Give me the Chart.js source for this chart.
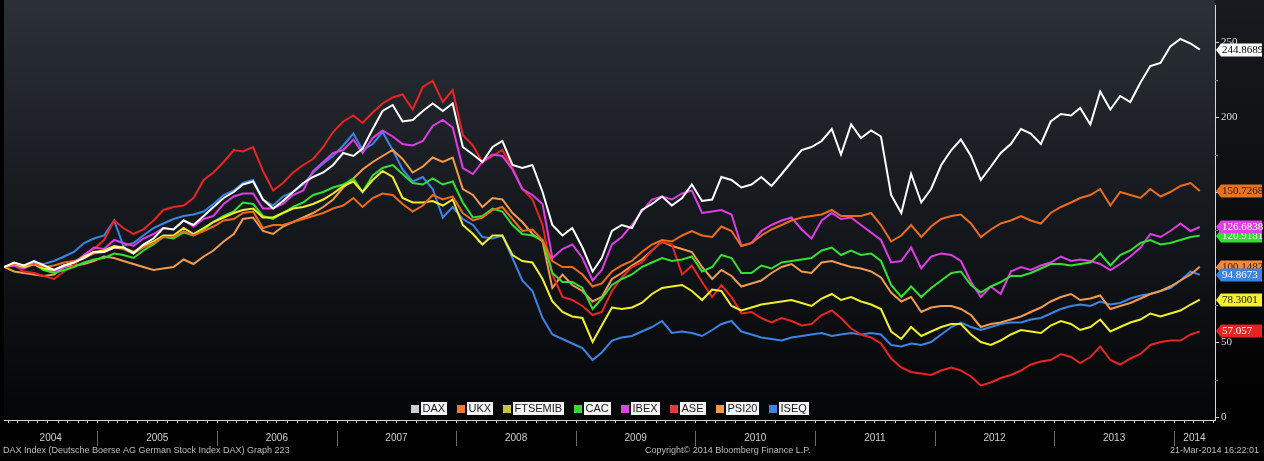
<!DOCTYPE html>
<html>
<head>
<meta charset="utf-8">
<title>DAX Index Graph 223</title>
<script src="https://cdn.jsdelivr.net/npm/chart.js@4/dist/chart.umd.min.js"></script>
<style>
  html, body { margin: 0; padding: 0; background: #000; overflow: hidden; }
  canvas { display: block; }
</style>
</head>
<body>
<canvas id="indexChart" width="1264" height="461"></canvas>
<script>
// one observation per month, every index rebased to 100 on the first date
const firstDate = [2004, 3, 21];
const monthCount = 121;

const seriesNames = ["DAX", "UKX", "FTSEMIB", "CAC", "IBEX", "ASE", "PSI20", "ISEQ"];

const dax = [
    100, 103, 101, 104, 101, 98, 101, 103, 106, 110,
    110, 113, 113, 109, 115, 119, 126, 125, 131, 128,
    134, 140, 146, 150, 155, 157, 145, 139, 144, 150,
    156, 160, 163, 168, 176, 174, 179, 192, 204, 208,
    197, 198, 204, 209, 204, 209, 180, 175, 170, 180,
    184, 168, 166, 168, 150, 128, 121, 126, 113, 97,
    106, 124, 128, 126, 138, 142, 147, 141, 146, 155,
    144, 145, 160, 158, 153, 155, 160, 154, 162, 170,
    178, 180, 184, 192, 175, 195, 186, 191, 187, 148,
    136, 162, 143, 152, 168, 178, 185, 174, 158, 167,
    176, 182, 192, 189, 182, 197, 202, 201, 206, 195,
    217, 205, 214, 210, 223, 234, 236, 247, 252, 249,
    244.8689
];
const ukx = [
    100, 102, 101, 102, 100, 101, 103, 104, 106, 109,
    110, 113, 112, 109, 113, 116, 120, 120, 124, 121,
    124, 127, 131, 132, 136, 137, 126, 128, 128, 130,
    132, 134, 136, 139, 141, 146, 140, 146, 149, 148,
    142, 137, 141, 148, 145, 147, 136, 131, 133, 138,
    140, 132, 124, 125, 118, 104, 100, 100, 95, 87,
    89, 97, 101, 104, 110, 115, 118, 117, 121, 124,
    121, 120, 127, 124, 114, 116, 121, 125, 128, 131,
    133, 134, 135, 138, 134, 134, 134, 136, 128, 117,
    121, 128, 120, 127, 132, 134, 135, 129, 120, 125,
    129, 131, 134, 131, 129, 136, 140, 143, 146, 148,
    152, 141, 150, 148, 146, 152, 147, 150, 154, 156,
    150.7268
];
const ftsemib = [
    100, 102, 100, 102, 99, 98, 101, 103, 107, 110,
    111, 114, 113, 110, 114, 117, 121, 121, 126, 122,
    126, 130, 133, 136, 138, 139, 133, 133, 136, 139,
    140, 142, 145, 149, 154, 157, 150, 158, 164, 160,
    146, 143, 143, 144, 141, 145, 128, 122, 115, 121,
    121, 108, 104, 103, 92, 77, 70, 67, 66, 50,
    61, 73, 72, 73, 76, 82, 86, 87, 88, 84,
    78, 85, 84, 74, 71, 73, 75, 76, 77, 78,
    76, 74, 79, 82, 78, 80, 77, 75, 72, 57,
    52, 60, 54, 57, 60, 62, 62, 55, 50, 48,
    51, 55, 58, 57, 56, 61, 64, 62, 58, 60,
    65, 57, 60, 63, 65, 69, 67, 69, 71, 75,
    78.3001
];
const cac = [
    100, 102, 100, 102, 98, 96, 98, 100, 103, 105,
    106, 109, 108, 106, 111, 115, 120, 119, 123, 121,
    125, 130, 134, 137, 143, 142, 134, 132, 136, 140,
    143, 148, 150, 153, 155, 159, 150, 161, 166, 168,
    162, 156, 155, 159, 155, 157, 143, 133, 134, 139,
    137, 128, 122, 121, 118, 96, 90, 90, 86, 72,
    79, 88, 92, 95, 100, 103, 106, 104, 105, 107,
    97, 100, 108, 106, 96, 96, 101, 99, 103, 104,
    105, 106, 111, 113, 108, 111, 108, 109, 104, 88,
    80, 87, 80, 86, 91, 96, 97, 88, 83, 87,
    90, 94, 94, 96, 99, 102, 102, 101, 102, 103,
    109, 101, 108, 111, 116, 118, 115, 116, 118, 120,
    120.9181
];
const ibex = [
    100, 101, 99, 102, 98, 97, 100, 103, 108, 113,
    112, 118, 116, 114, 119, 122, 126, 125, 131, 127,
    132, 134, 142, 147, 149, 149, 139, 139, 142, 148,
    151, 164, 170, 176, 178, 185, 176, 186, 191, 187,
    182, 181, 184, 194, 198, 193, 166, 162, 170, 175,
    174, 165, 152, 148, 142, 106, 112, 115, 106, 91,
    98, 115, 120, 128, 137, 145, 147, 145, 149, 151,
    136, 137, 138, 135, 114, 116, 124, 128, 131, 133,
    125, 119, 131, 136, 132, 133, 128, 123, 118, 103,
    104, 113, 99, 107, 109, 108, 104, 90, 80, 87,
    82, 97, 100, 98, 101, 103, 107, 104, 105, 104,
    102, 98, 102, 107, 113, 122, 120, 124, 129, 124,
    126.6838
];
const ase = [
    100, 101, 97, 96, 94, 92, 97, 101, 108, 112,
    118, 131, 126, 122, 125, 131, 138, 140, 141, 146,
    158, 163, 170, 178, 177, 180, 164, 151, 156, 163,
    168, 172, 180, 190, 197, 201, 196, 203, 209, 213,
    215, 205, 220, 224, 210, 218, 188, 181, 170, 174,
    178, 166, 152, 145, 128, 95, 80, 78, 74, 68,
    70, 84, 93, 100, 103, 111, 117, 115, 95, 101,
    90, 80, 88, 80, 69, 70, 66, 63, 66, 64,
    61, 62, 68, 71, 66, 59, 55, 53, 49, 39,
    33, 30, 29, 28, 31, 33, 31, 27, 21, 23,
    26, 28, 31, 35, 37, 38, 42, 40, 36, 40,
    47, 38, 35, 39, 42, 48, 50, 51, 51, 55,
    57.057
];
const psi20 = [
    100, 97, 96, 95, 94, 95, 100, 101, 102, 104,
    107, 106, 104, 102, 100, 98, 99, 100, 105, 102,
    107, 111, 117, 122, 132, 133, 124, 122, 127, 130,
    133, 136, 140, 145, 153, 159, 165, 170, 174, 178,
    172, 163, 167, 173, 170, 173, 152, 148, 140, 146,
    145, 136, 130, 122, 117, 86, 95, 88, 84, 77,
    80, 92, 96, 101, 105, 111, 117, 114, 112, 110,
    100, 92, 98, 94, 87, 89, 91, 96, 100, 102,
    97, 96, 103, 104, 102, 100, 99, 97, 93, 83,
    77, 80, 70, 73, 74, 74, 72, 68, 60, 62,
    63, 65, 67, 70, 73, 77, 80, 82, 78, 79,
    81, 72, 74, 76, 79, 82, 84, 87, 91, 95,
    100.1482
];
const iseq = [
    100, 102, 100, 103, 102, 104, 107, 110, 116, 119,
    121, 131, 114, 116, 121, 126, 129, 132, 134, 135,
    137, 142, 148, 151, 156, 158, 145, 141, 147, 150,
    155, 163, 169, 174, 181, 189, 178, 182, 190, 178,
    165, 157, 160, 152, 133, 140, 132, 128, 120, 119,
    121, 106, 91, 84, 66, 55, 52, 49, 46, 38,
    43, 51, 53, 54, 57, 60, 64, 56, 57, 56,
    54, 58, 62, 64, 57, 55, 53, 52, 51, 53,
    54, 55, 56, 54, 55, 56, 55, 56, 55, 48,
    47, 49, 48, 50, 55, 60, 63, 60, 58, 60,
    62, 63, 63, 65, 66, 69, 72, 74, 75, 74,
    77, 75, 76, 79, 81, 82, 84, 86, 91, 97,
    94.8673
];

const yTickValues = [0, 50, 100, 150, 200, 250];
const yMinorValues = [25, 75, 125, 175, 225];
const yearLabels = [2004, 2005, 2006, 2007, 2008, 2009, 2010, 2011, 2012, 2013, 2014];

const seriesValues = [dax, ukx, ftsemib, cac, ibex, ase, psi20, iseq];
const lineColors = ["#ffffff", "#ec6c1c", "#f2ee2a", "#33e033", "#e03ce6", "#e82424", "#f39a4d", "#3a84e6"];
const keyColors = ["#cfcfcf", "#ec7a32", "#c6c43a", "#3cd43c", "#dc46dc", "#e23a3a", "#f0984e", "#3e82e0"];
const tagColors = ["#ffffff", "#e8731e", "#f4f032", "#33dd33", "#e040e6", "#e82222", "#f08a3a", "#3a84e6"];
const tagTextColors = ["#000000", "#3a1400", "#1a1a00", "#f0fff0", "#ffffff", "#ffffff", "#3a1a00", "#ffffff"];

function toYearFraction(d) {
    const y = d.getUTCFullYear();
    const start = Date.UTC(y, 0, 1);
    const end = Date.UTC(y + 1, 0, 1);
    return y + (d.getTime() - start) / (end - start);
}

const dates = [];
for (let i = 0; i < monthCount; i++) {
    dates.push(new Date(Date.UTC(firstDate[0], firstDate[1] - 1 + i, firstDate[2])));
}
const xMin = toYearFraction(dates[0]);
const xMax = xMin + 10.125;

// Bloomberg style frame: background, axis line, legend, value tags, footer
const bbgFrame = {
    id: "bbgFrame",
    beforeDraw(chart) {
        const { ctx, chartArea: a, width, height } = chart;
        ctx.save();
        ctx.fillStyle = "#000";
        ctx.fillRect(0, 0, width, height);
        let g = ctx.createLinearGradient(0, a.top, 0, a.bottom);
        g.addColorStop(0, "#2b3037");
        g.addColorStop(0.45, "#171b20");
        g.addColorStop(1, "#040506");
        ctx.fillStyle = g;
        ctx.fillRect(a.left, 0, a.right - a.left, a.bottom);
        g = ctx.createLinearGradient(0, 0, 0, a.bottom);
        g.addColorStop(0, "#171a1e");
        g.addColorStop(1, "#000");
        ctx.fillStyle = g;
        ctx.fillRect(a.right, 0, width - a.right, a.bottom);
        ctx.restore();
    },
    afterDraw(chart) {
        const { ctx, chartArea: a, width } = chart;
        const xs = chart.scales.x;
        const ys = chart.scales.y;
        ctx.save();

        // x axis line with monthly ticks
        ctx.strokeStyle = "#d0d0d0";
        ctx.lineWidth = 1;
        ctx.beginPath();
        ctx.moveTo(a.left, a.bottom + 0.5);
        ctx.lineTo(a.right, a.bottom + 0.5);
        for (let y = 2004; y <= 2014; y++) {
            for (let m = 0; m < 12; m++) {
                const v = toYearFraction(new Date(Date.UTC(y, m, 1)));
                if (v < xMin || v > xMax) continue;
                const px = Math.round(xs.getPixelForValue(v)) + 0.5;
                ctx.moveTo(px, a.bottom);
                ctx.lineTo(px, a.bottom + 3);
            }
        }
        ctx.stroke();

        // year separators
        ctx.strokeStyle = "#6a6a6a";
        ctx.beginPath();
        for (let y = 2005; y <= 2014; y++) {
            const px = Math.round(xs.getPixelForValue(y)) + 0.5;
            ctx.moveTo(px, a.bottom + 11);
            ctx.lineTo(px, a.bottom + 26);
        }
        ctx.stroke();

        // minor ticks on the value axis
        ctx.strokeStyle = "#8a8a8a";
        ctx.beginPath();
        yMinorValues.forEach(v => {
            const py = Math.round(ys.getPixelForValue(v)) + 0.5;
            ctx.moveTo(a.right, py);
            ctx.lineTo(a.right + 3, py);
        });
        ctx.stroke();

        // legend inside the plot, white label boxes
        ctx.font = '11px "Liberation Sans", Arial, sans-serif';
        ctx.textBaseline = "middle";
        ctx.textAlign = "left";
        const items = chart.data.datasets.map((ds, k) => ({
            text: ds.label,
            w: Math.ceil(ctx.measureText(ds.label).width) + 3,
            color: keyColors[k]
        }));
        const sq = 8, gap = 2, space = 10;
        const total = items.reduce((s, it) => s + sq + gap + it.w, 0) + space * (items.length - 1);
        let lx = Math.round((a.left + a.right) / 2 - total / 2);
        const ly = a.bottom - 11.5;
        items.forEach(it => {
            ctx.fillStyle = it.color;
            ctx.fillRect(lx, Math.round(ly - 4), sq, sq);
            lx += sq + gap;
            ctx.fillStyle = "#f4f4f4";
            ctx.fillRect(lx, Math.round(ly - 6.5), it.w, 13);
            ctx.fillStyle = "#1a1a1a";
            ctx.fillText(it.text, lx + 1.5, ly + 0.5);
            lx += it.w + space;
        });

        // last value tags
        ctx.font = '11px "Liberation Serif", "Times New Roman", serif';
        chart.data.datasets.forEach((ds, k) => {
            const meta = chart.getDatasetMeta(k);
            const last = meta.data[meta.data.length - 1];
            const py = Math.round(last.y);
            const x0 = a.right + 1;
            ctx.beginPath();
            ctx.moveTo(x0, py);
            ctx.lineTo(x0 + 5, py - 6.5);
            ctx.lineTo(width - 2, py - 6.5);
            ctx.lineTo(width - 2, py + 6.5);
            ctx.lineTo(x0 + 5, py + 6.5);
            ctx.closePath();
            ctx.fillStyle = tagColors[k];
            ctx.fill();
            ctx.fillStyle = tagTextColors[k];
            ctx.fillText(String(ds.data[ds.data.length - 1].y), x0 + 6, py + 0.5);
        });

        // footer
        ctx.font = '9px "Liberation Sans", Arial, sans-serif';
        ctx.fillStyle = "#bdbdbd";
        ctx.textAlign = "left";
        ctx.fillText("DAX Index (Deutsche Boerse AG German Stock Index DAX) Graph 223", 3, 451);
        ctx.fillText("Copyright\u00a9 2014 Bloomberg Finance L.P.", 645, 451);
        ctx.textAlign = "right";
        ctx.fillText("21-Mar-2014 16:22:01", 1259, 451);
        ctx.restore();
    }
};

document.addEventListener("DOMContentLoaded", function () {
    const ctx = document.getElementById("indexChart").getContext("2d");

    const yearMids = yearLabels.map(y => (Math.max(y, xMin) + Math.min(y + 1, xMax)) / 2);

    new Chart(ctx, {
        type: "line",
        data: {
            datasets: seriesNames.map((name, k) => ({
                label: name,
                data: seriesValues[k].map((v, i) => ({ x: toYearFraction(dates[i]), y: v })),
                borderColor: lineColors[k],
                borderWidth: 2,
                pointRadius: 0,
                tension: 0,
                fill: false
            }))
        },
        options: {
            responsive: false,
            animation: false,
            devicePixelRatio: 1,
            layout: {
                padding: { left: 4, top: 5, right: 0, bottom: 0 }
            },
            scales: {
                x: {
                    type: "linear",
                    min: xMin,
                    max: xMax,
                    grid: { display: false, drawTicks: false },
                    border: { display: false },
                    ticks: {
                        color: "#cfcfcf",
                        font: { family: '"Liberation Sans", Arial, sans-serif', size: 10 },
                        padding: 12,
                        maxRotation: 0,
                        autoSkip: false,
                        callback: function (value) {
                            return String(Math.floor(value));
                        }
                    },
                    afterBuildTicks: function (axis) {
                        axis.ticks = yearMids.map(v => ({ value: v }));
                    },
                    afterFit: function (scale) {
                        scale.height = 41;
                        scale.paddingLeft = 0;
                        scale.paddingRight = 0;
                    }
                },
                y: {
                    type: "linear",
                    position: "right",
                    min: -2,
                    max: 274.67,
                    grid: { drawOnChartArea: false, drawTicks: true, tickLength: 4, color: "#d8d8d8" },
                    border: { display: true, color: "#d8d8d8", width: 1 },
                    ticks: {
                        color: "#dcdcdc",
                        font: { family: '"Liberation Serif", "Times New Roman", serif', size: 11 },
                        padding: 2,
                        callback: function (value) {
                            return String(value);
                        }
                    },
                    afterBuildTicks: function (axis) {
                        axis.ticks = yTickValues.map(v => ({ value: v }));
                    },
                    afterFit: function (scale) {
                        scale.width = 49;
                        scale.paddingTop = 0;
                        scale.paddingBottom = 0;
                    }
                }
            },
            plugins: {
                legend: { display: false },
                tooltip: { enabled: false }
            }
        },
        plugins: [bbgFrame]
    });
});
</script>
</body>
</html>
